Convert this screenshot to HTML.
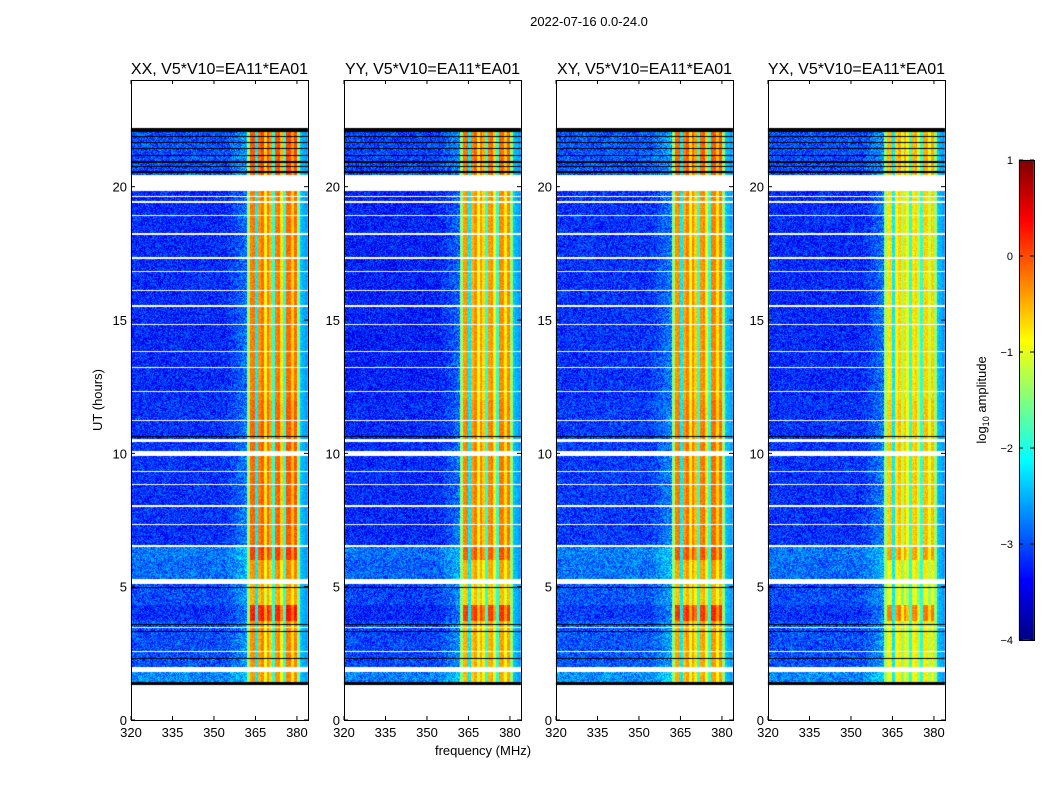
<!DOCTYPE html>
<html><head><meta charset="utf-8">
<style>
html,body{margin:0;padding:0;background:#fff;}
#wrap{position:relative;width:1050px;height:800px;overflow:hidden;font-family:"Liberation Sans",sans-serif;}
canvas,svg{position:absolute;left:0;top:0;}
</style></head>
<body>
<div id="wrap">
<canvas id="cv" width="1050" height="800"></canvas>
<svg id="sv" width="1050" height="800"></svg>
</div>
<script>
// ---- data ----
const panelTitles = ["XX, V5*V10=EA11*EA01","YY, V5*V10=EA11*EA01","XY, V5*V10=EA11*EA01","YX, V5*V10=EA11*EA01"];
const panelRfiOffset = [0.05, -0.1, -0.05, -0.45];
const panelBgOffset = [0.0, -0.05, 0.05, 0.0];
const xTicks = [320,335,350,365,380];
const yTicks = [0,5,10,15,20];
const cbTicks = [1,0,-1,-2,-3,-4];
// RFI channel profile, 1 MHz channels starting at 362 MHz
const rfiStart = 362;
const rfiProfile = [-1.4,0.0,0.05,-2.2,-0.1,0.1,-0.6,0.05,-0.3,-1.9,0.0,0.1,-0.5,-1.9,0.1,0.1,-0.4,0.1,-1.4,-2.4,-2.5,-2.6];
// time segments [start, end, rfiLevel, bgLevel]
const segStart = [1.3,2.0,3.7,4.3,5.3,6.0,6.5,10.0,12.0,20.4];
const segEnd   = [2.0,3.7,4.3,5.3,6.0,6.5,10.0,12.0,20.4,22.2];
const segRfi   = [-0.45,-0.4,0.15,-0.55,-0.4,0.0,-0.2,-0.2,-0.3,-0.1];
const segBg    = [-2.7,-3.0,-3.15,-3.0,-2.85,-2.8,-3.15,-3.15,-3.2,-3.0];
// flagged gaps (white) and black rows
const whiteStart = [1.8,5.1,9.9,10.42,19.85,2.55,3.45,7.3,8.0,9.3,11.2,13.8,15.5,16.8,17.3,18.2,18.9,19.4,19.6,14.8,12.3,6.5,8.8,13.2,16.1];
const whiteEnd   = [2.0,5.3,10.08,10.55,20.45,2.6,3.5,7.35,8.05,9.35,11.25,13.85,15.55,16.85,17.35,18.25,18.95,19.45,19.65,14.85,12.35,6.56,8.84,13.24,16.14];
const blackStart = [1.3,2.3,3.3,3.55,4.95,10.6,20.5,20.72,20.9,21.15,21.4,21.62,21.85,22.05];
const blackEnd   = [1.42,2.34,3.34,3.59,4.99,10.64,20.58,20.78,20.96,21.2,21.46,21.68,21.9,22.2];

const axX=[131,344,556,768], axW=177, axTop=80, axBot=720;
const fMin=320, fMax=384, tMin=0, tMax=24;
function xs(p,f){return axX[p]+(f-fMin)/(fMax-fMin)*axW;}
function ys(t){return axBot-(t-tMin)/(tMax-tMin)*(axBot-axTop);}
function jet(v){let t=(v+4)/5;t=Math.max(0,Math.min(1,t));
 const c=x=>Math.max(0,Math.min(1,x));
 return [c(1.5-Math.abs(4*t-3))*255,c(1.5-Math.abs(4*t-2))*255,c(1.5-Math.abs(4*t-1))*255];}
function inAny(t,s,e){for(let i=0;i<s.length;i++)if(t>=s[i]&&t<e[i])return true;return false;}
function tex(px,py){let h=(px*374761393+py*668265263)>>>0;h=((h^(h>>>13))*1274126177)>>>0;return ((h>>>8)%1000)/1000-0.5;}

const cv=document.getElementById('cv');const ctx=cv.getContext('2d');
const img=ctx.createImageData(1050,800);const d=img.data;
for(let i=0;i<d.length;i+=4){d[i]=255;d[i+1]=255;d[i+2]=255;d[i+3]=255;}
for(let p=0;p<4;p++){
 for(let py=axTop;py<axBot;py++){
  const t=tMin+(axBot-py-0.5)/(axBot-axTop)*(tMax-tMin);
  let si=-1;for(let i=0;i<segStart.length;i++)if(t>=segStart[i]&&t<segEnd[i])si=i;
  if(si<0)continue;
  const white=inAny(t,whiteStart,whiteEnd), black=inAny(t,blackStart,blackEnd);
  for(let px=axX[p];px<axX[p]+axW;px++){
   const f=fMin+(px+0.5-axX[p])/axW*(fMax-fMin);
   let col;
   if(white)col=[255,255,255];
   else if(black)col=[0,0,0];
   else{
    let v;
    if(f>=rfiStart){const ci=Math.min(rfiProfile.length-1,Math.floor(f-rfiStart));
      v=rfiProfile[ci]<-1?rfiProfile[ci]:segRfi[si]+rfiProfile[ci]+panelRfiOffset[p];
      v+=tex(px,py)*0.3;}
    else{v=segBg[si]+panelBgOffset[p]+(f>354?(f-354)*0.05:0);
      v+=tex(px,py)*0.9;}
    col=jet(v);
   }
   const k=(py*1050+px)*4;d[k]=col[0];d[k+1]=col[1];d[k+2]=col[2];
  }
 }
}
// colorbar
for(let py=160;py<640;py++){const v=1-(py-160)/480*5;const c=jet(v);
 for(let px=1019;px<1034;px++){const k=(py*1050+px)*4;d[k]=c[0];d[k+1]=c[1];d[k+2]=c[2];}}
ctx.putImageData(img,0,0);

// ---- SVG overlay ----
const sv=document.getElementById('sv');const NS='http://www.w3.org/2000/svg';
function el(tag,attrs,txt){const e=document.createElementNS(NS,tag);for(const k in attrs)e.setAttribute(k,attrs[k]);if(txt!==undefined)e.textContent=txt;sv.appendChild(e);return e;}
let e=el('text',{x:589,y:26,'font-size':13,'text-anchor':'middle'},'2022-07-16 0.0-24.0');


for(let p=0;p<4;p++){
 e=el('rect',{x:axX[p]+0.5,y:axTop+0.5,width:axW,height:axBot-axTop,fill:'none',stroke:'#000','stroke-width':1});
 
 
 e=el('text',{x:axX[p]+axW/2,y:74,'font-size':16,'text-anchor':'middle'},panelTitles[p]);
 
 
 xTicks.forEach(v=>{const x=xs(p,v);
  el('line',{x1:x,x2:x,y1:axBot,y2:axBot-4,stroke:'#000'});el('line',{x1:x,x2:x,y1:axTop,y2:axTop+4,stroke:'#000'});
  e=el('text',{x:x,y:axBot+17,'font-size':13,'text-anchor':'middle'},v);
  
  });
 yTicks.forEach(v=>{const y=ys(v);
  el('line',{x1:axX[p],x2:axX[p]+4,y1:y,y2:y,stroke:'#000'});el('line',{x1:axX[p]+axW,x2:axX[p]+axW-4,y1:y,y2:y,stroke:'#000'});
  e=el('text',{x:axX[p]-4,y:y+5,'font-size':13,'text-anchor':'end'},v);
  
  });
}
e=el('text',{x:483,y:755,'font-size':13,'text-anchor':'middle'},'frequency (MHz)');


e=el('text',{x:102,y:400,'font-size':13,'text-anchor':'middle',transform:'rotate(-90 102 400)'},'UT (hours)');


e=el('rect',{x:1019.5,y:160.5,width:15,height:480,fill:'none',stroke:'#000'});


cbTicks.forEach(v=>{const y=160+(1-v)/5*480;
 el('line',{x1:1019,x2:1023,y1:y,y2:y,stroke:'#000'});el('line',{x1:1034,x2:1030,y1:y,y2:y,stroke:'#000'});
 e=el('text',{x:1013,y:y+4,'font-size':11,'text-anchor':'end'},v===0||v===1?String(v):'\u2212'+Math.abs(v));
 
 });
e=el('text',{'font-size':13,'text-anchor':'middle',transform:'translate(986 400) rotate(-90)'});


e.innerHTML='log<tspan font-size="9" dy="3">10</tspan><tspan dy="-3"> amplitude</tspan>';
</script>
</body></html>
